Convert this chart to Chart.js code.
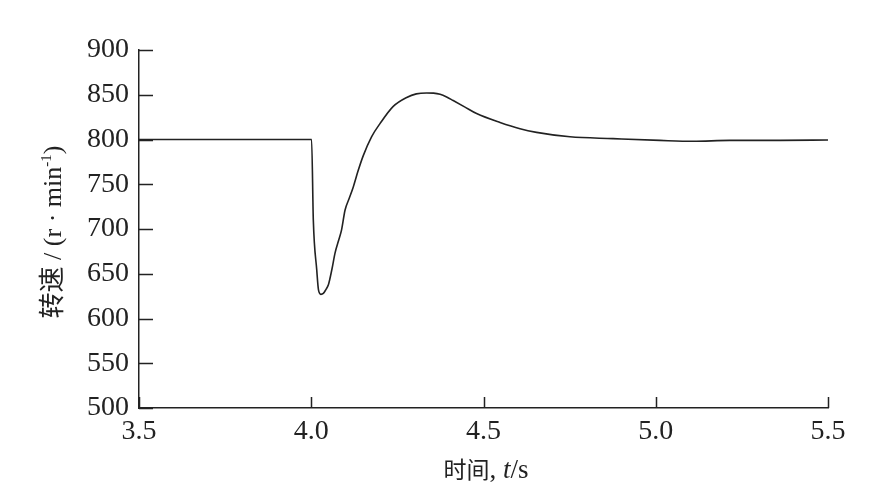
<!DOCTYPE html>
<html>
<head>
<meta charset="utf-8">
<script src="https://cdn.jsdelivr.net/npm/chart.js@4.4.0/dist/chart.umd.min.js"></script>
<style>
  html, body { margin: 0; padding: 0; background: #fff; }
  #wrap { width: 888px; height: 495px; }
</style>
</head>
<body>
<div id="wrap"><canvas id="speedChart" width="888" height="495"></canvas></div>
<script>
// time (s) and speed (r/min)
const times = [3.5, 4.0, 4.001, 4.006, 4.016, 4.021, 4.028, 4.035, 4.042, 4.050, 4.060, 4.069, 4.080,
  4.088, 4.098, 4.110, 4.122, 4.136, 4.151, 4.175, 4.200, 4.238, 4.277, 4.305, 4.335, 4.355,
  4.374, 4.393, 4.412, 4.445, 4.480, 4.548, 4.606, 4.654, 4.751, 4.876, 5.012, 5.108, 5.215, 5.361, 5.5];
const speeds = [800, 800, 800, 710, 654, 632, 627, 628, 632, 638, 655, 673, 688,
  699, 721, 734, 747, 765, 782, 803, 818, 837, 847, 851, 852, 851.8,
  850.5, 847.5, 843.5, 836.5, 829, 819, 812, 808, 803, 801, 799, 798, 799, 799, 799.5];
const xTicks = [3.5, 4.0, 4.5, 5.0, 5.5];
const yTicks = [500, 550, 600, 650, 700, 750, 800, 850, 900];

const serif = "'Liberation Serif', serif";
const cjk = "'Noto Sans CJK SC', sans-serif";

// draws a run of text pieces (each with its own font / raise) centred at 0,0
function drawRun(ctx, parts) {
    let total = 0;
    parts.forEach(p => { ctx.font = p.font; total += ctx.measureText(p.text).width; });
    let x = -total / 2;
    ctx.textAlign = 'left';
    ctx.textBaseline = 'alphabetic';
    parts.forEach(p => {
        ctx.font = p.font;
        ctx.fillText(p.text, x, 9 - (p.raise || 0));
        x += ctx.measureText(p.text).width;
    });
}

// ticks in the picture point into the plot
const innerTicks = {
    id: 'innerTicks',
    afterDraw(chart) {
        const ctx = chart.ctx;
        const x = chart.scales.x, y = chart.scales.y;
        const area = chart.chartArea;
        ctx.save();
        ctx.strokeStyle = '#222';
        ctx.lineWidth = 1.5;
        ctx.beginPath();
        xTicks.forEach(v => {
            const px = Math.round(x.getPixelForValue(v)) + 0.5;
            ctx.moveTo(px, area.bottom);
            ctx.lineTo(px, area.bottom - 11);
        });
        yTicks.forEach(v => {
            const py = Math.round(y.getPixelForValue(v)) + 0.5;
            ctx.moveTo(area.left, py);
            ctx.lineTo(area.left + 14, py);
        });
        ctx.stroke();

        ctx.fillStyle = '#222';
        // x title
        ctx.save();
        ctx.translate(486, 469);
        drawRun(ctx, [
            { text: '时间', font: '23px ' + cjk },
            { text: ', ', font: '27px ' + serif },
            { text: 't', font: 'italic 27px ' + serif },
            { text: '/s', font: '27px ' + serif }
        ]);
        ctx.restore();
        // y title
        ctx.save();
        ctx.translate(52, 232);
        ctx.rotate(-Math.PI / 2);
        drawRun(ctx, [
            { text: '转速', font: '26px ' + cjk },
            { text: ' / (r · min', font: '26px ' + serif },
            { text: '-1', font: '15px ' + serif, raise: 10 },
            { text: ')', font: '26px ' + serif }
        ]);
        ctx.restore();
        ctx.restore();
    }
};

new Chart(document.getElementById('speedChart').getContext('2d'), {
    type: 'scatter',
    data: {
        datasets: [{
            data: times.map((t, i) => ({ x: t, y: speeds[i] })),
            showLine: true,
            borderColor: '#222',
            borderWidth: 1.6,
            pointRadius: 0,
            cubicInterpolationMode: 'monotone'
        }]
    },
    options: {
        responsive: false,
        animation: false,
        layout: { padding: { left: 0, right: 60, top: 50, bottom: 0 } },
        plugins: { legend: { display: false }, tooltip: { enabled: false } },
        scales: {
            x: {
                type: 'linear',
                min: 3.5,
                max: 5.5,
                afterBuildTicks: s => { s.ticks = xTicks.map(v => ({ value: v })); },
                afterFit: s => { s.height = 87; },
                grid: { display: false, drawTicks: false },
                border: { display: true, color: '#222', width: 1.5 },
                ticks: {
                    padding: 7,
                    color: '#222',
                    font: { family: serif, size: 28 },
                    callback: v => v.toFixed(1)
                }
            },
            y: {
                min: 500,
                max: 900,
                afterBuildTicks: s => { s.ticks = yTicks.map(v => ({ value: v })); },
                afterFit: s => { s.width = 139; },
                grid: { display: false, drawTicks: false },
                border: { display: true, color: '#222', width: 1.5 },
                ticks: {
                    padding: 10,
                    color: '#222',
                    font: { family: serif, size: 28 }
                }
            }
        }
    },
    plugins: [innerTicks]
});
</script>
</body>
</html>
